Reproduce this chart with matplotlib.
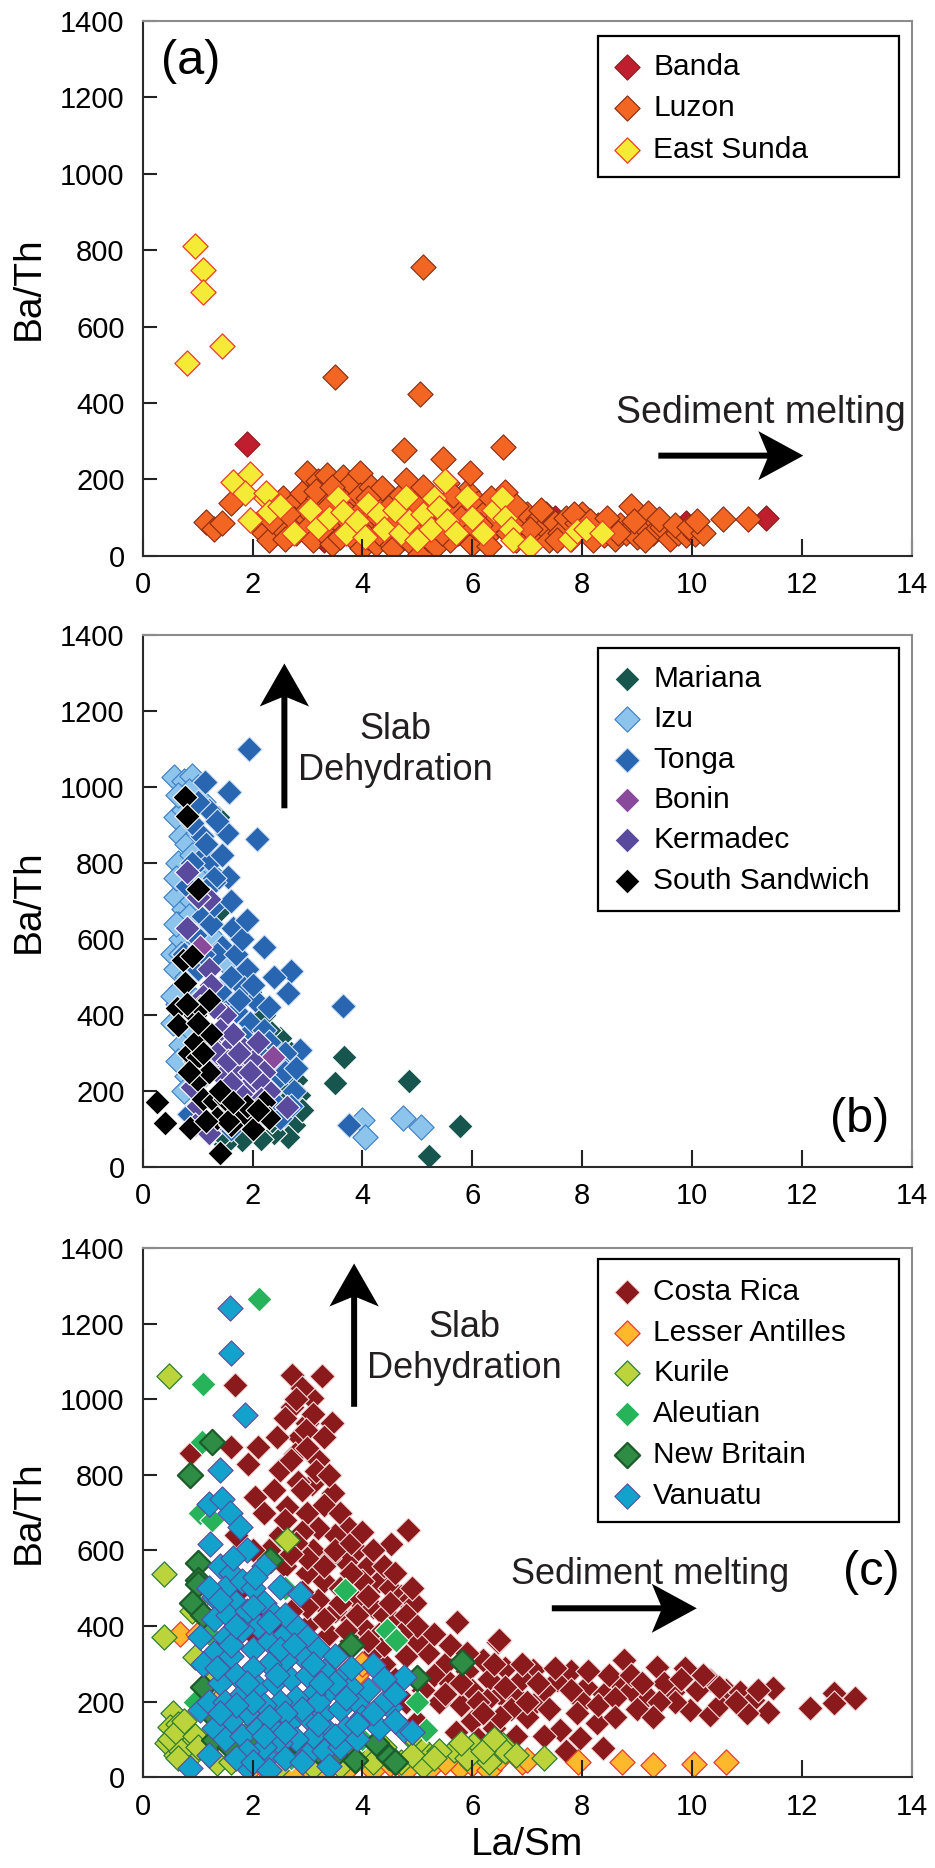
import matplotlib
matplotlib.use("Agg")
import matplotlib.pyplot as plt
from matplotlib.patches import Rectangle, Polygon
from matplotlib.transforms import IdentityTransform
import numpy as np

plt.rcParams['font.family'] = ['Liberation Sans', 'DejaVu Sans']

# ---------------- data: (La/Sm, Ba/Th) ----------------
# Panel (a)
banda = [(1.9, 292), (7.1, 90), (7.5, 100), (3.3, 40), (4.9, 35), (9.9, 85),
         (10.1, 70), (11.35, 98), (6.2, 60)]
luzon = [(1.15, 88), (1.3, 70), (1.45, 85), (1.6, 137), (2.1, 85), (2.2, 60), (2.3, 40),
         (2.4, 110), (2.5, 75), (2.55, 150), (2.6, 45), (2.7, 130), (2.75, 95), (2.8, 60),
         (2.9, 165), (3.0, 216), (3.0, 120), (3.05, 80), (3.1, 40), (3.2, 195), (3.2, 150),
         (3.25, 100), (3.3, 60), (3.35, 211), (3.4, 130), (3.45, 30), (3.5, 468), (3.5, 175),
         (3.55, 90), (3.6, 50), (3.65, 207), (3.7, 140), (3.75, 110), (3.8, 190), (3.85, 70),
         (3.9, 35), (3.95, 216), (3.95, 160), (4.0, 120), (4.0, 20), (4.05, 85), (4.1, 50),
         (4.15, 180), (4.2, 140), (4.25, 30), (4.3, 100), (4.35, 177), (4.4, 65), (4.45, 40),
         (4.5, 130), (4.55, 20), (4.6, 90), (4.7, 160), (4.75, 277), (4.75, 50), (4.8, 199),
         (4.85, 110), (4.9, 30), (4.95, 140), (5.0, 70), (5.05, 423), (5.05, 5), (5.1, 755),
         (5.1, 180), (5.15, 100), (5.2, 45), (5.3, 150), (5.35, 25), (5.4, 120), (5.47, 253),
         (5.5, 80), (5.55, 190), (5.6, 40), (5.7, 130), (5.75, 60), (5.8, 100), (5.9, 170),
         (5.96, 216), (6.0, 30), (6.05, 75), (6.1, 138), (6.2, 110), (6.25, 50), (6.3, 25),
         (6.4, 90), (6.5, 130), (6.56, 284), (6.6, 168), (6.65, 60), (6.7, 100), (6.8, 40),
         (6.9, 80), (7.0, 110), (7.1, 55), (7.2, 95), (7.3, 75), (7.35, 110), (7.4, 40),
         (7.5, 85), (7.6, 60), (7.7, 100), (7.8, 45), (7.9, 85), (8.0, 110), (8.1, 60),
         (8.2, 40), (8.3, 80), (8.4, 55), (8.5, 70), (8.6, 45), (8.7, 80), (8.8, 60),
         (8.9, 130), (9.0, 50), (9.1, 80), (9.21, 111), (9.3, 60), (9.45, 75), (9.6, 45),
         (9.75, 59), (9.9, 55), (10.05, 58), (10.57, 95), (11.02, 95),
         (2.35, 90), (2.65, 110), (3.15, 170), (3.45, 180), (3.7, 95), (4.1, 150), (4.3, 60),
         (4.65, 120), (5.25, 130), (5.45, 60), (5.65, 160), (6.15, 80), (6.35, 150), (6.8, 130),
         (7.05, 70), (7.25, 120), (7.55, 40), (7.85, 110), (8.15, 90), (8.45, 100), (8.65, 60),
         (8.95, 90), (9.15, 40), (9.4, 95), (9.7, 80), (9.95, 75), (10.2, 60), (10.1, 90)]
east_sunda = [(0.8, 505), (0.95, 810), (1.1, 748), (1.1, 690), (1.45, 548), (1.65, 194),
              (1.95, 214), (1.86, 163), (1.95, 93), (2.25, 150), (2.25, 165), (2.3, 115),
              (2.5, 130), (2.75, 60), (3.05, 120), (3.2, 75), (3.4, 100), (3.55, 150),
              (3.65, 115), (3.7, 60), (3.9, 90), (4.05, 50), (4.1, 135), (4.3, 110), (4.4, 70),
              (4.6, 120), (4.7, 60), (4.8, 155), (4.85, 90), (5.0, 40), (5.1, 110), (5.25, 70),
              (5.3, 150), (5.4, 125), (5.5, 195), (5.55, 90), (5.7, 60), (5.9, 155), (6.0, 100),
              (6.2, 60), (6.4, 120), (6.55, 150), (6.6, 100), (6.7, 70), (6.75, 40), (7.05, 25),
              (7.78, 45), (7.9, 65), (8.08, 71), (8.36, 60)]

# Panel (b)
mariana = [(3.66, 289), (3.5, 222), (4.85, 227), (5.77, 107), (5.21, 29), (2.5, 340),
           (2.7, 300), (2.8, 230), (2.85, 190), (2.75, 110), (2.65, 80), (2.4, 90), (2.15, 75),
           (1.8, 70), (1.5, 60), (1.45, 85), (1.38, 920), (1.41, 676), (2.3, 360), (2.55, 200),
           (2.1, 130), (2.9, 150), (1.95, 460), (2.2, 400), (1.6, 500), (2.6, 170), (2.35, 120)]
izu = [(0.57, 1027), (0.75, 1015), (0.9, 1030), (0.6, 920), (0.7, 870), (0.8, 850), (0.75, 940),
       (0.65, 800), (0.9, 820), (0.6, 710), (0.75, 680), (0.65, 640), (0.55, 560), (0.7, 600),
       (0.8, 560), (0.6, 520), (0.7, 470), (0.65, 430), (0.8, 500), (0.75, 400), (0.9, 700),
       (0.55, 450), (1.0, 880), (1.1, 960), (1.2, 780), (0.85, 360), (0.95, 440), (0.7, 320),
       (1.0, 1000), (0.85, 990), (4.0, 125), (4.05, 80), (4.74, 128), (5.07, 105), (2.35, 160),
       (1.5, 540), (0.8, 240), (1.3, 600), (0.6, 760), (0.65, 980), (0.7, 560), (0.55, 380),
       (0.65, 280), (0.75, 200), (0.85, 660), (0.6, 640), (1.0, 760)]
tonga = [(1.94, 1100), (1.13, 1014), (1.58, 988), (2.08, 862), (1.53, 880), (1.08, 870),
         (2.7, 516), (2.64, 457), (3.64, 424), (2.86, 308), (3.75, 111), (1.65, 628), (1.56, 764),
         (1.04, 808), (1.25, 804), (1.2, 940), (1.0, 960), (0.9, 905), (1.35, 910), (1.15, 850),
         (1.3, 750), (1.1, 660), (0.8, 740), (1.25, 640), (1.45, 580), (1.35, 560), (1.7, 560),
         (1.9, 520), (1.6, 500), (1.85, 470), (2.05, 440), (1.5, 430), (1.7, 410), (1.95, 380),
         (1.4, 460), (2.2, 360), (1.85, 340), (2.6, 300), (2.5, 240), (2.75, 200), (2.4, 170),
         (2.15, 150), (1.95, 120), (1.6, 100), (1.2, 90), (0.85, 140), (1.05, 230), (1.4, 130),
         (0.95, 610), (1.0, 520), (0.75, 560), (2.3, 420), (1.8, 600), (1.3, 690), (1.55, 350),
         (2.0, 260), (1.1, 560), (1.6, 700), (1.9, 650), (2.2, 580), (2.4, 500), (2.0, 480),
         (1.75, 440), (2.3, 330), (2.1, 300), (2.45, 280), (2.6, 250), (2.8, 260), (2.7, 160),
         (2.5, 130), (1.7, 130), (1.3, 760), (1.45, 820), (0.9, 800), (1.15, 730), (1.6, 270)]
bonin = [(2.38, 290), (1.04, 580), (1.7, 260), (2.05, 125), (1.5, 300)]
kermadec = [(0.8, 777), (1.2, 704), (0.8, 628), (2.62, 159), (1.0, 710), (1.2, 520), (1.25, 480),
            (1.5, 400), (1.4, 360), (1.6, 320), (1.85, 310), (2.0, 280), (1.7, 250), (2.2, 250),
            (1.9, 210), (1.3, 270), (0.9, 210), (1.0, 160), (1.5, 200), (1.1, 450), (1.3, 420),
            (2.1, 330), (1.8, 190), (2.3, 200), (2.1, 230), (1.2, 330), (1.65, 350), (1.45, 240),
            (0.95, 110), (1.2, 90), (1.35, 300), (1.55, 280), (1.75, 300), (1.95, 250),
            (2.15, 180), (1.6, 220)]
south_sandwich = [(0.26, 172), (0.41, 115), (0.86, 102), (1.4, 37), (0.77, 975), (0.8, 924),
                  (1.01, 731), (0.74, 545), (0.77, 484), (0.62, 418), (0.65, 374), (0.95, 400),
                  (0.9, 555), (0.95, 280), (0.85, 300), (1.0, 290), (1.0, 230), (1.1, 180),
                  (1.3, 175), (1.35, 130), (1.5, 180), (1.75, 150), (1.8, 130), (2.2, 170),
                  (2.3, 130), (2.0, 100), (1.6, 110), (1.2, 250), (1.05, 420), (1.2, 440),
                  (0.95, 330), (1.25, 350), (1.55, 120), (1.9, 160), (0.8, 430), (1.1, 300),
                  (1.4, 200), (1.65, 170), (2.1, 150), (1.15, 120), (0.85, 250), (1.0, 380)]

# Panel (c)
costa_rica = [(1.68, 1037), (2.71, 1063), (3.26, 1061), (3.08, 1002), (2.71, 980), (3.45, 937),
              (3.0, 936), (2.9, 1030), (3.1, 960), (2.85, 900), (0.88, 858), (1.6, 874),
              (1.92, 830), (2.1, 874), (2.44, 900), (2.5, 812), (2.78, 856), (2.98, 918),
              (2.05, 742), (2.62, 715), (3.47, 751), (3.08, 777), (2.83, 781), (4.84, 655),
              (4.53, 618), (3.2, 840), (3.0, 700), (3.3, 720), (3.6, 700), (3.75, 660),
              (3.5, 640), (3.2, 660), (2.9, 650), (3.9, 600), (4.1, 560), (4.3, 520), (4.5, 500),
              (4.7, 480), (4.85, 470), (4.95, 460), (3.7, 570), (3.4, 580), (3.1, 600),
              (2.8, 620), (2.5, 640), (2.3, 600), (2.0, 600), (1.7, 640), (2.6, 560), (3.0, 540),
              (3.3, 520), (3.6, 500), (3.9, 470), (4.2, 450), (4.4, 430), (4.0, 400), (3.8, 420),
              (3.5, 440), (3.2, 470), (2.9, 490), (2.6, 500), (4.6, 410), (4.3, 380), (3.8, 360),
              (3.4, 380), (1.35, 340), (5.72, 411), (6.47, 358), (5.2, 330), (5.5, 300),
              (5.0, 360), (4.8, 320), (5.3, 270), (5.6, 250), (5.9, 280), (6.0, 230), (6.2, 310),
              (6.3, 260), (6.5, 220), (6.48, 363), (6.27, 204), (6.75, 222), (7.17, 200),
              (7.11, 284), (7.54, 257), (7.6, 125), (7.96, 103), (8.39, 77), (8.27, 143),
              (8.08, 240), (8.7, 248), (8.76, 310), (9.18, 214), (9.36, 292), (9.66, 226),
              (9.87, 288), (9.97, 178), (10.33, 165), (10.33, 257), (10.63, 230), (10.88, 226),
              (11.12, 204), (11.39, 174), (11.48, 235), (12.15, 182), (12.58, 222), (12.58, 196),
              (12.97, 209), (6.9, 260), (7.3, 230), (7.8, 280), (8.0, 200), (8.4, 220),
              (8.5, 270), (8.9, 230), (9.0, 180), (9.5, 250), (9.7, 200), (10.1, 230),
              (10.5, 190), (11.0, 170), (7.0, 160), (6.7, 180), (6.6, 290), (6.0, 150),
              (5.7, 120), (5.8, 190), (5.4, 200), (5.1, 230), (5.0, 150), (4.8, 200), (4.6, 260),
              (4.4, 300), (4.2, 330), (6.1, 100), (6.4, 130), (7.3, 110), (7.7, 70), (6.8, 110),
              (2.5, 380), (3.0, 400), (2.2, 450), (1.8, 500), (3.6, 300), (2.0, 380),
              (2.6, 950), (2.8, 1000), (3.0, 870), (3.3, 900), (2.7, 840), (3.15, 810),
              (2.9, 760), (3.4, 800), (2.4, 760), (2.2, 700), (2.6, 680), (3.5, 600), (3.8, 620),
              (4.0, 650), (4.2, 600), (4.4, 560), (4.6, 540), (4.0, 520), (3.8, 540), (3.3, 560),
              (3.0, 580), (2.7, 590), (3.6, 460), (3.9, 430), (4.1, 480), (4.5, 460), (4.8, 430),
              (5.0, 400), (4.7, 380), (4.4, 350), (4.1, 360), (3.7, 390), (3.3, 420), (3.0, 450),
              (2.7, 440), (4.9, 500), (5.3, 380), (5.6, 350), (5.9, 330), (5.5, 220), (5.8, 250),
              (6.1, 200), (6.4, 300), (6.6, 240), (6.9, 300), (7.2, 250), (7.5, 290), (7.8, 230),
              (8.1, 280), (8.3, 190), (8.6, 210), (8.9, 270), (9.1, 250), (9.4, 200), (9.8, 260),
              (10.2, 270), (10.5, 240), (10.8, 200), (11.2, 230), (7.0, 200), (7.4, 180),
              (6.5, 160), (6.2, 170), (7.9, 170), (8.6, 160), (9.3, 160)]
lesser_antilles = [(7.93, 41), (8.72, 41), (9.3, 32), (10.04, 35), (10.62, 40), (6.9, 41),
                   (3.71, 292), (3.89, 270), (4.56, 217), (0.68, 380), (2.63, 10), (3.71, 19),
                   (4.8, 19), (5.78, 28), (6.99, 46), (2.0, 30), (2.3, 15), (3.0, 25), (3.3, 15),
                   (4.2, 20), (4.5, 35), (5.2, 20), (5.5, 40), (6.0, 35), (6.3, 20), (6.5, 50),
                   (2.7, 5), (1.3, 200), (1.0, 380), (4.0, 300)]
kurile = [(0.47, 1061), (0.38, 539), (0.38, 372), (0.96, 319), (2.62, 627), (1.35, 37),
          (3.11, 28), (7.3, 50), (6.57, 85), (6.02, 85), (5.66, 72), (5.17, 63), (5.0, 90),
          (0.56, 169), (0.68, 99), (0.5, 134), (0.45, 90), (0.6, 60), (0.75, 120), (0.8, 80),
          (0.65, 140), (0.9, 60), (0.55, 110), (0.85, 100), (1.6, 40), (1.8, 50), (2.2, 40),
          (2.5, 30), (2.9, 55), (3.4, 45), (3.6, 30), (4.1, 60), (4.4, 80), (4.7, 40), (5.1, 30),
          (5.4, 70), (5.9, 50), (6.3, 40), (6.6, 70), (6.8, 60), (1.1, 480), (0.9, 440),
          (1.25, 250), (2.0, 60), (4.9, 110), (0.5, 100), (0.6, 120), (0.7, 70), (0.75, 150),
          (0.95, 110), (1.0, 80), (0.65, 50), (3.8, 70), (4.2, 40), (4.9, 60), (5.3, 50),
          (5.8, 90), (6.2, 70), (6.4, 100)]
aleutian = [(2.12, 1266), (1.1, 1041), (1.08, 887), (1.04, 698), (1.26, 680), (3.68, 495),
            (4.44, 389), (4.62, 363), (5.0, 200), (5.15, 125), (1.2, 380), (0.95, 200),
            (2.6, 500), (1.5, 330), (3.0, 80), (2.7, 50), (1.9, 120), (4.0, 100)]
new_britain = [(1.26, 887), (0.86, 799), (2.32, 574), (1.0, 566), (1.0, 522), (1.1, 240),
               (1.0, 510), (3.8, 350), (5.81, 306), (5.0, 262), (3.87, 46), (4.48, 55),
               (4.24, 90), (2.75, 99), (1.29, 99), (1.59, 81), (0.9, 460), (1.1, 430), (2.0, 110),
               (3.2, 70), (3.5, 60), (4.6, 40), (1.3, 160), (2.5, 300)]
vanuatu = [(1.59, 1242), (1.6, 1121), (1.87, 958), (1.41, 812), (1.2, 724), (1.44, 737),
           (1.59, 698), (1.77, 663), (1.23, 618), (0.86, 24), (1.9, 28), (2.27, 54), (2.87, 486),
           (2.5, 504), (4.2, 297), (4.75, 266), (4.5, 187), (4.75, 125), (1.29, 478), (1.05, 372),
           (1.05, 178), (1.4, 560), (1.6, 540), (1.5, 500), (1.8, 520), (2.0, 500), (1.7, 460),
           (1.3, 420), (1.55, 430), (1.9, 440), (2.2, 460), (2.4, 430), (2.1, 400), (1.8, 390),
           (1.5, 370), (1.3, 330), (1.6, 320), (2.0, 340), (2.3, 360), (2.6, 380), (2.8, 400),
           (3.0, 370), (3.2, 340), (2.9, 320), (2.6, 310), (2.3, 300), (2.0, 290), (1.7, 270),
           (1.4, 250), (1.2, 200), (1.5, 200), (1.8, 220), (2.1, 240), (2.4, 250), (2.7, 260),
           (3.0, 270), (3.3, 280), (3.6, 260), (3.4, 230), (3.1, 220), (2.8, 210), (2.5, 200),
           (2.2, 190), (1.9, 170), (1.6, 150), (1.3, 130), (1.5, 100), (1.8, 110), (2.1, 130),
           (2.4, 140), (2.7, 150), (3.0, 160), (3.3, 170), (3.6, 180), (3.9, 200), (4.1, 230),
           (3.8, 240), (4.0, 160), (3.7, 130), (3.4, 120), (3.1, 110), (2.8, 100), (2.5, 90),
           (2.2, 80), (1.9, 70), (2.6, 50), (3.0, 60), (3.3, 70), (3.6, 80), (3.9, 100),
           (4.3, 130), (4.6, 150), (4.4, 200), (1.7, 50), (1.2, 60), (1.6, 350), (1.9, 600),
           (2.2, 560), (2.6, 430), (3.5, 320), (3.8, 290), (4.4, 260), (4.9, 120), (2.0, 40),
           (2.9, 40), (3.4, 30), (1.1, 300), (2.3, 20), (1.2, 500), (1.4, 470), (1.7, 400),
           (2.0, 450), (2.3, 410), (2.5, 340), (2.75, 350), (3.1, 300), (3.5, 250), (3.7, 210),
           (3.2, 200), (2.9, 180), (2.6, 170), (2.3, 160), (2.0, 200), (1.7, 190), (1.4, 170),
           (2.2, 110), (2.6, 120), (3.2, 140), (3.5, 110), (3.9, 140), (4.2, 170), (4.6, 220),
           (1.35, 290), (1.9, 250), (2.45, 270), (3.25, 250), (1.65, 580), (2.05, 530)]

x_ticks = [0, 2, 4, 6, 8, 10, 12, 14]
y_ticks = [0, 200, 400, 600, 800, 1000, 1200, 1400]

# series: (label, data, face, edge, edge width)
panel_a = [("Banda", banda, "#be1e2d", "#8a1c1c", 0.8),
           ("Luzon", luzon, "#f26522", "#8b2a12", 0.8),
           ("East Sunda", east_sunda, "#f5ea35", "#ee3b2c", 0.9)]
panel_b = [("Mariana", mariana, "#17564f", "#ffffff", 0.8),
           ("Izu", izu, "#8dc4eb", "#3b7cc4", 0.8),
           ("Tonga", tonga, "#2866b1", "#d8e6f5", 0.8),
           ("Bonin", bonin, "#8a4a9c", "#ffffff", 0.8),
           ("Kermadec", kermadec, "#5a4a9e", "#ffffff", 0.8),
           ("South Sandwich", south_sandwich, "#000000", "#ffffff", 0.8)]
panel_c = [("Costa Rica", costa_rica, "#8b1a1d", "#f4dede", 0.8),
           ("Lesser Antilles", lesser_antilles, "#fdb92b", "#ee3b2c", 0.9),
           ("Kurile", kurile, "#bcd43c", "#2f7d34", 0.9),
           ("Aleutian", aleutian, "#27b35a", "#ffffff", 0.8),
           ("New Britain", new_britain, "#2e8c45", "#1b5c2a", 1.6),
           ("Vanuatu", vanuatu, "#12a2cb", "#5b4aa0", 0.8)]

MS = 165
TXT = "#231f20"

fig = plt.figure(figsize=(9.35, 18.68), dpi=100)
L, Wd = 142.7 / 935, 768.8 / 935
ax_a = fig.add_axes([L, (1868 - 555.7) / 1868, Wd, 534.7 / 1868])
ax_b = fig.add_axes([L, (1868 - 1167.0) / 1868, Wd, 532.0 / 1868])
ax_c = fig.add_axes([L, (1868 - 1777.3) / 1868, Wd, 529.3 / 1868])


def style(ax):
    ax.set_xlim(0, 14)
    ax.set_ylim(0, 1400)
    ax.set_xticks(x_ticks)
    ax.set_yticks(y_ticks)
    ax.tick_params(axis='both', direction='in', labelsize=21, width=1.5,
                   color='#222222', labelcolor='black')
    ax.tick_params(axis='x', length=12, pad=11)
    ax.tick_params(axis='y', length=10, pad=13)
    for s in ('left', 'bottom'):
        ax.spines[s].set_color('#2a2a2a')
        ax.spines[s].set_linewidth(1.5)
    for s in ('top', 'right'):
        ax.spines[s].set_color('#8c8c8c')
        ax.spines[s].set_linewidth(1.5)
    ax.set_ylabel('Ba/Th', fontsize=28, va='center')
    ax.yaxis.set_label_coords(-0.148, 0.5)


def plot_series(ax, series):
    for name, pts, fc, ec, lw in series:
        xs = [p[0] for p in pts]
        ys = [p[1] for p in pts]
        ax.scatter(xs, ys, marker='D', s=MS, facecolor=fc, edgecolor=ec, linewidths=lw, zorder=1)


def legend(ax, series, box, y0, dy):
    x0, yb, x1, yt = box
    ax.add_patch(Rectangle((x0, yb), x1 - x0, yt - yb, transform=ax.transAxes,
                           facecolor='white', edgecolor='black', lw=1.6, zorder=5))
    for i, (name, pts, fc, ec, lw) in enumerate(series):
        y = y0 - i * dy
        ax.scatter([0.630], [y], transform=ax.transAxes, marker='D', s=MS, facecolor=fc,
                   edgecolor=ec, linewidths=lw, zorder=6, clip_on=False)
        ax.text(0.664, y, name, transform=ax.transAxes, va='center', ha='left',
                fontsize=21.5, color='black', zorder=6)


def arrow(ax, p0, p1, shaft=6.0, head_len=45.0, head_half=24.5, notch=9.0):
    a = np.array(ax.transData.transform(p0))
    b = np.array(ax.transData.transform(p1))
    d = b - a
    u = d / np.hypot(*d)
    n = np.array([-u[1], u[0]])
    back = b - u * head_len
    nt = b - u * (head_len - notch)
    pts = [a + n * shaft / 2, nt + n * shaft / 2, back + n * head_half, b,
           back - n * head_half, nt - n * shaft / 2, a - n * shaft / 2]
    ax.add_patch(Polygon(pts, closed=True, transform=IdentityTransform(),
                         facecolor='black', edgecolor='none', zorder=7))


for ax in (ax_a, ax_b, ax_c):
    style(ax)

plot_series(ax_a, panel_a)
plot_series(ax_b, panel_b)
plot_series(ax_c, panel_c)

legend(ax_a, panel_a, (0.592, 0.7088, 0.984, 0.9725), 0.9145, 0.0775)
legend(ax_b, panel_b, (0.592, 0.481, 0.984, 0.9756), 0.917, 0.0758)
legend(ax_c, panel_c, (0.592, 0.482, 0.984, 0.979), 0.917, 0.077)

# annotations
ax_a.text(0.87, 1295, '(a)', fontsize=35, ha='center', va='center', color='black', zorder=8)
ax_b.text(13.05, 124, '(b)', fontsize=35, ha='center', va='center', color='black', zorder=8)
ax_c.text(13.26, 543, '(c)', fontsize=35, ha='center', va='center', color='black', zorder=8)

ax_a.text(11.26, 373, 'Sediment melting', fontsize=27, ha='center', va='center', color=TXT, zorder=8)
arrow(ax_a, (9.39, 262), (12.03, 262))

ax_b.text(4.6, 1097, 'Slab\nDehydration', fontsize=26, ha='center', va='center',
          multialignment='center', color=TXT, zorder=8)
arrow(ax_b, (2.58, 944), (2.58, 1325), head_len=43, head_half=24.7)

ax_c.text(5.86, 1135, 'Slab\nDehydration', fontsize=26, ha='center', va='center',
          multialignment='center', color=TXT, zorder=8)
arrow(ax_c, (3.85, 980), (3.85, 1359), head_len=43, head_half=24.7)

ax_c.text(9.24, 537, 'Sediment melting', fontsize=26, ha='center', va='center', color=TXT, zorder=8)
arrow(ax_c, (7.45, 447), (10.09, 447))

ax_c.set_xlabel('La/Sm', fontsize=28, va='center')
ax_c.xaxis.set_label_coords(0.5, -0.128)

fig.savefig('out.png', dpi=100)
